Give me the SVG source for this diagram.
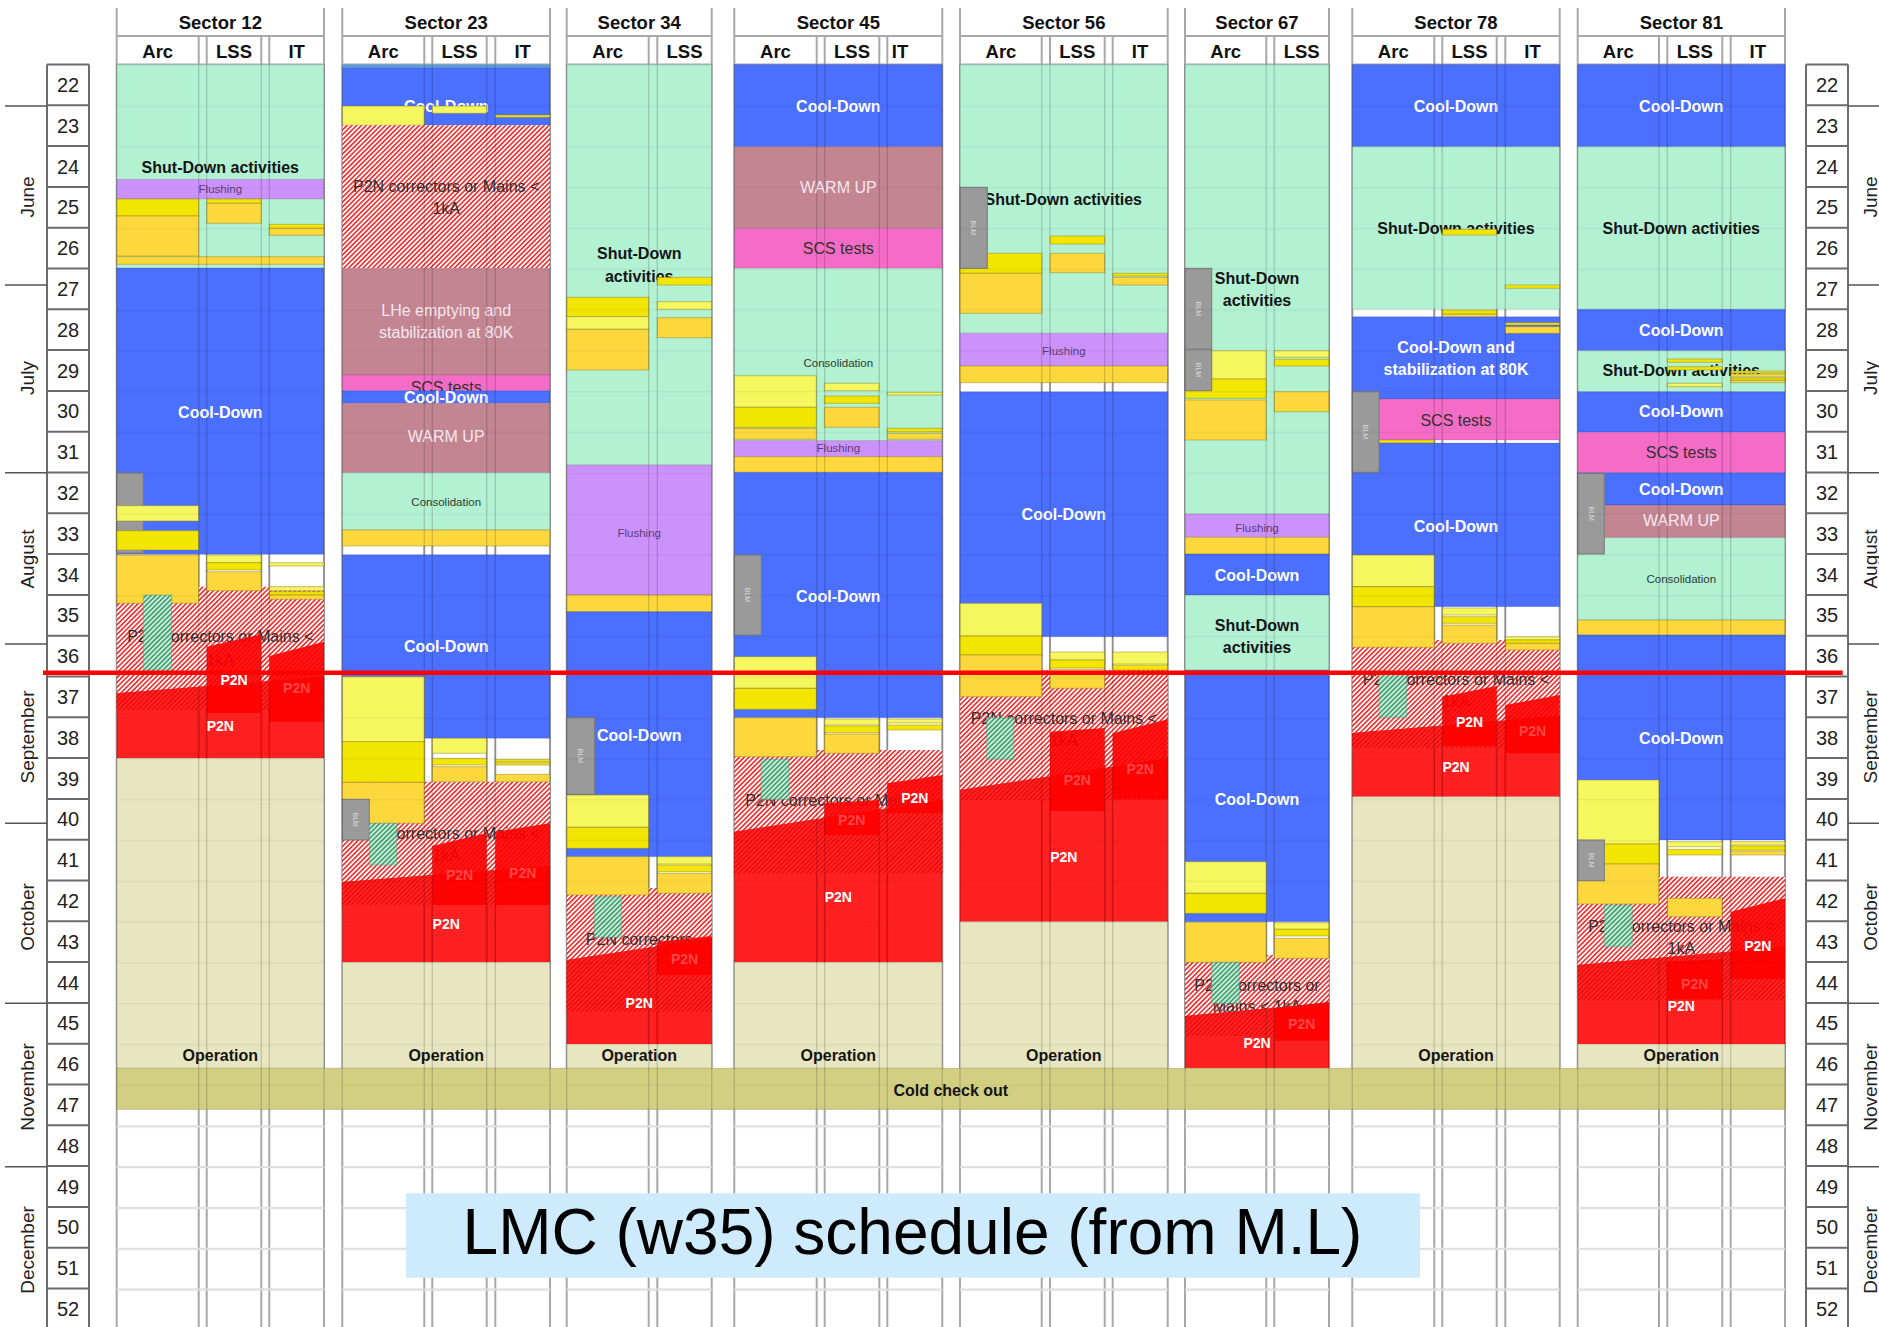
<svg xmlns="http://www.w3.org/2000/svg" width="1879" height="1327" viewBox="0 0 1879 1327">
<defs>
<pattern id="hr" width="3.4" height="6" patternUnits="userSpaceOnUse" patternTransform="rotate(45)"><rect width="3.4" height="6" fill="#fff"/><rect width="1.7" height="6" fill="#f23535"/></pattern>
<pattern id="hg" width="3.4" height="6" patternUnits="userSpaceOnUse" patternTransform="rotate(45)"><rect width="3.4" height="6" fill="#cdeedd"/><rect width="1.7" height="6" fill="#47a274"/></pattern>
<pattern id="hd" width="3.4" height="6" patternUnits="userSpaceOnUse" patternTransform="rotate(45)"><rect width="3.4" height="6" fill="#ff2626"/><rect width="1.7" height="6" fill="#f00c0c"/></pattern>
<pattern id="wk" x="0" y="64.5" width="20" height="40.8" patternUnits="userSpaceOnUse"><rect width="20" height="1.5" fill="#000" fill-opacity=".045"/></pattern>
<pattern id="wkw" x="0" y="64.5" width="20" height="40.8" patternUnits="userSpaceOnUse"><rect width="20" height="2.2" fill="#dedede"/></pattern>
</defs>
<style>
text{font-family:"Liberation Sans",Arial,sans-serif}
.g{fill:#b3f1d3;stroke:#000;stroke-opacity:.1}
.b{fill:#4b6ffe;stroke:#000;stroke-opacity:.1}
.m{fill:#c48593;stroke:#000;stroke-opacity:.1}
.p{fill:#f56cc6;stroke:#000;stroke-opacity:.1}
.f{fill:#cc92fb;stroke:#000;stroke-opacity:.12}
.y{fill:#f2e500;stroke:#8a7a20;stroke-opacity:.45}
.ly{fill:#f6f65e;stroke:#8a7a20;stroke-opacity:.45}
.o{fill:#fdd83d;stroke:#8a7a20;stroke-opacity:.45}
.blm{fill:#9a9a9a;stroke:#7a7a7a}
.op{fill:#e7e6c1;stroke:#000;stroke-opacity:.1}
.hr{fill:url(#hr)}
.hg{fill:url(#hg);stroke:#6a9a80;stroke-opacity:.5}
.hd{fill:url(#hd)}
.rd{fill:#ff0000;fill-opacity:.87}
.rb{fill:#ff0000;fill-opacity:.9}
.tb{font-size:16px;font-weight:bold;text-anchor:middle}
.wh{fill:#fff}
.dk{fill:#141414}
.n{font-size:16px;text-anchor:middle;fill:#303030}
.nw{font-size:16px;text-anchor:middle;fill:#f6e8ee}
.sm{font-size:11.5px;text-anchor:middle}
.fl{fill:#5b3d78}
.cs{fill:#2e3a30}
.p2n{font-size:14px;font-weight:bold;text-anchor:middle;fill:#fff}
.fp{font-size:14px;font-weight:bold;text-anchor:middle;fill:#ff4646}
.blmt{font-size:7px;fill:#dadada;text-anchor:middle}
.hdr{font-size:18.5px;font-weight:bold;text-anchor:middle;fill:#111}
.wn{font-size:20px;text-anchor:middle;fill:#222}
.mo{font-size:19px;text-anchor:middle;fill:#222}
</style>
<rect width="1879" height="1327" fill="#fff"/>

<g id="grid">
<path fill="none" stroke="#a8a8a8" stroke-width="2" d="M116.7 8V1327M324 8V1327M342.3 8V1327M550 8V1327M566.7 8V1327M711.7 8V1327M734.3 8V1327M942.3 8V1327M960 8V1327M1167.7 8V1327M1185 8V1327M1329 8V1327M1352.3 8V1327M1559.7 8V1327M1577.7 8V1327M1785 8V1327
M198.7 36V1327M206.7 36V1327M261.3 36V1327M269.3 36V1327M424.3 36V1327M432.3 36V1327M486.7 36V1327M495.3 36V1327M648.7 36V1327M657.3 36V1327M816.7 36V1327M824.7 36V1327M879.3 36V1327M887.3 36V1327M1041.7 36V1327M1050 36V1327M1104.7 36V1327M1112.7 36V1327M1266.3 36V1327M1274.3 36V1327M1434.3 36V1327M1442.3 36V1327M1496.7 36V1327M1505.3 36V1327M1659 36V1327M1667.3 36V1327M1722.3 36V1327M1730.7 36V1327
M116.7 36H324M342.3 36H550M566.7 36H711.7M734.3 36H942.3M960 36H1167.7M1185 36H1329M1352.3 36H1559.7M1577.7 36H1785
M116.7 64.5H324M342.3 64.5H550M566.7 64.5H711.7M734.3 64.5H942.3M960 64.5H1167.7M1185 64.5H1329M1352.3 64.5H1559.7M1577.7 64.5H1785"/>
<g fill="url(#wkw)">
<rect x="116.7" y="1109.3" width="207.3" height="218"/>
<rect x="342.3" y="1109.3" width="207.7" height="218"/>
<rect x="566.7" y="1109.3" width="145" height="218"/>
<rect x="734.3" y="1109.3" width="208" height="218"/>
<rect x="960" y="1109.3" width="207.7" height="218"/>
<rect x="1185" y="1109.3" width="144" height="218"/>
<rect x="1352.3" y="1109.3" width="207.4" height="218"/>
<rect x="1577.7" y="1109.3" width="207.3" height="218"/>
</g>
</g>

<g id="headers">
<text class="hdr" x="220.3" y="28.5">Sector 12</text>
<text class="hdr" x="157.7" y="57.5">Arc</text><text class="hdr" x="234" y="57.5">LSS</text><text class="hdr" x="296.7" y="57.5">IT</text>
<text class="hdr" x="446.2" y="28.5">Sector 23</text>
<text class="hdr" x="383.3" y="57.5">Arc</text><text class="hdr" x="459.5" y="57.5">LSS</text><text class="hdr" x="522.7" y="57.5">IT</text>
<text class="hdr" x="639.2" y="28.5">Sector 34</text>
<text class="hdr" x="607.7" y="57.5">Arc</text><text class="hdr" x="684.5" y="57.5">LSS</text>
<text class="hdr" x="838.3" y="28.5">Sector 45</text>
<text class="hdr" x="775.5" y="57.5">Arc</text><text class="hdr" x="852" y="57.5">LSS</text><text class="hdr" x="900" y="57.5">IT</text>
<text class="hdr" x="1063.8" y="28.5">Sector 56</text>
<text class="hdr" x="1001" y="57.5">Arc</text><text class="hdr" x="1077.3" y="57.5">LSS</text><text class="hdr" x="1140" y="57.5">IT</text>
<text class="hdr" x="1257" y="28.5">Sector 67</text>
<text class="hdr" x="1225.7" y="57.5">Arc</text><text class="hdr" x="1301.7" y="57.5">LSS</text>
<text class="hdr" x="1456" y="28.5">Sector 78</text>
<text class="hdr" x="1393.3" y="57.5">Arc</text><text class="hdr" x="1469.5" y="57.5">LSS</text><text class="hdr" x="1532.5" y="57.5">IT</text>
<text class="hdr" x="1681.3" y="28.5">Sector 81</text>
<text class="hdr" x="1618.3" y="57.5">Arc</text><text class="hdr" x="1694.8" y="57.5">LSS</text><text class="hdr" x="1757.8" y="57.5">IT</text>
</g>

<g id="sector-12">
<rect class="hr" x="116.7" y="586.7" width="207.3" height="123.3"/>
<rect class="g" x="116.7" y="64.5" width="207.3" height="203.5"/>
<text class="tb dk" x="220.3" y="172.7">Shut-Down activities</text>
<rect class="f" x="116.7" y="179.3" width="207.3" height="19.7"/>
<text class="sm fl" x="220.3" y="193.4">Flushing</text>
<rect class="y" x="116.7" y="199" width="82" height="17"/>
<rect class="o" x="116.7" y="216" width="82" height="40"/>
<rect class="y" x="206.7" y="199" width="54.6" height="4.3"/>
<rect class="o" x="206.7" y="203.3" width="54.6" height="20"/>
<rect class="y" x="269.3" y="224.3" width="54.7" height="4"/>
<rect class="o" x="269.3" y="228.3" width="54.7" height="7"/>
<rect class="o" x="116.7" y="256.7" width="207.3" height="7.6"/>
<rect class="b" x="116.7" y="268" width="207.3" height="286.3"/>
<text class="tb wh" x="220.3" y="418">Cool-Down</text>
<rect class="blm" x="116.7" y="473" width="26.6" height="80"/>
<text class="blmt" transform="rotate(90 130 513)" x="130" y="515.5">BLM</text>
<rect class="ly" x="116.7" y="505.7" width="82" height="15.3"/>
<rect class="y" x="116.7" y="530.7" width="82" height="19.3"/>
<rect class="o" x="116.7" y="555" width="82" height="48.3"/>
<rect class="ly" x="206.7" y="555" width="54.6" height="7.7"/>
<rect class="y" x="206.7" y="562.7" width="54.6" height="7.3"/>
<rect class="o" x="206.7" y="571.7" width="54.6" height="19"/>
<rect class="ly" x="269.3" y="562.7" width="54.7" height="3.3"/>
<rect class="ly" x="269.3" y="586.7" width="54.7" height="4"/>
<rect class="y" x="269.3" y="591.7" width="54.7" height="3.3"/>
<rect class="o" x="269.3" y="595" width="54.7" height="4.3"/>
<text class="n" x="220.3" y="642.4">P2N correctors or Mains &lt;</text>
<text class="n" x="220.3" y="665.7">1kA</text>
<rect class="hg" x="143.3" y="595" width="28.4" height="75"/>
<polygon class="rd" points="116.7,693.3 324,676.7 324,758.3 116.7,758.3"/>
<polygon class="hd" points="116.7,693.3 324,676.7 324,710 116.7,710"/>
<polygon class="rb" points="206.7,646.7 261.3,634.3 261.3,713 206.7,713"/>
<polygon class="rb" points="269.3,656 324,641.7 324,721.7 269.3,721.7"/>
<text class="p2n" x="234" y="685">P2N</text>
<text class="fp" x="296.7" y="693.3">P2N</text>
<text class="p2n" x="220.3" y="731">P2N</text>
<rect class="op" x="116.7" y="758.3" width="207.3" height="310"/>
<text class="tb dk" x="220.3" y="1061">Operation</text>
</g>

<g id="sector-23">
<rect class="hr" x="342.3" y="781.7" width="207.7" height="123.3"/>
<rect x="342.3" y="64.5" width="207.7" height="3.5" fill="#5d9fdc"/>
<rect class="b" x="342.3" y="68" width="207.7" height="57.3"/>
<text class="tb wh" x="446.2" y="112">Cool-Down</text>
<rect class="ly" x="342.3" y="106" width="82" height="19.3"/>
<rect class="ly" x="432.3" y="106" width="54.4" height="7.3"/>
<rect class="y" x="495.3" y="115" width="54.7" height="2.3"/>
<rect class="hr" x="342.3" y="125.3" width="207.7" height="143"/>
<text class="n" x="446.2" y="191.7">P2N correctors or Mains &lt;</text>
<text class="n" x="446.2" y="213.7">1kA</text>
<rect class="m" x="342.3" y="268.3" width="207.7" height="106.7"/>
<text class="nw" x="446.2" y="316.4">LHe emptying and</text>
<text class="nw" x="446.2" y="338.4">stabilization at 80K</text>
<rect class="p" x="342.3" y="375" width="207.7" height="15.7"/>
<text class="n wh" x="446.2" y="393">SCS tests</text>
<rect class="b" x="342.3" y="390.7" width="207.7" height="12.6"/>
<rect class="m" x="342.3" y="403.3" width="207.7" height="69.4"/>
<text class="tb wh" x="446.2" y="403.3">Cool-Down</text>
<text class="nw" x="446.2" y="442.4">WARM UP</text>
<rect class="g" x="342.3" y="472.7" width="207.7" height="57.3"/>
<text class="sm cs" x="446.2" y="505.8">Consolidation</text>
<rect class="o" x="342.3" y="530" width="207.7" height="16"/>
<rect class="b" x="342.3" y="554.7" width="207.7" height="183.6"/>
<text class="tb wh" x="446.2" y="652.4">Cool-Down</text>
<rect class="ly" x="342.3" y="676.7" width="82" height="65"/>
<rect class="y" x="342.3" y="741.7" width="82" height="40.6"/>
<rect class="o" x="342.3" y="782.3" width="82" height="41"/>
<rect class="ly" x="432.3" y="738.3" width="54.4" height="15"/>
<rect class="y" x="432.3" y="758.3" width="54.4" height="6.7"/>
<rect class="o" x="432.3" y="766.7" width="54.4" height="15"/>
<rect class="y" x="495.3" y="759.3" width="54.7" height="2.4"/>
<rect class="y" x="495.3" y="762.7" width="54.7" height="2.3"/>
<rect class="o" x="495.3" y="774.3" width="54.7" height="7.4"/>
<text class="n" x="446.2" y="839">P2N correctors or Mains &lt;</text>
<text class="n" x="446.2" y="861">1kA</text>
<rect class="blm" x="342.3" y="799.3" width="27" height="40.7"/>
<text class="blmt" transform="rotate(90 355.8 819.7)" x="355.8" y="822.2">BLM</text>
<rect class="hg" x="369.3" y="823.3" width="27.4" height="41.7"/>
<polygon class="rd" points="342.3,882 550,866 550,962.3 342.3,962.3"/>
<polygon class="hd" points="342.3,882 550,866 550,905 342.3,905"/>
<polygon class="rb" points="432.3,846 486.7,833 486.7,905 432.3,905"/>
<polygon class="rb" points="495.3,831.7 550,823.3 550,905 495.3,905"/>
<text class="fp" x="459.5" y="880">P2N</text>
<text class="fp" x="522.7" y="878">P2N</text>
<text class="p2n" x="446.2" y="929.3">P2N</text>
<rect class="op" x="342.3" y="962.3" width="207.7" height="106"/>
<text class="tb dk" x="446.2" y="1061">Operation</text>
</g>

<g id="sector-34">
<rect class="hr" x="566.7" y="888" width="145" height="123.7"/>
<rect class="g" x="566.7" y="64.5" width="145" height="400.5"/>
<text class="tb dk" x="639.2" y="259">Shut-Down</text>
<text class="tb dk" x="639.2" y="281.7">activities</text>
<rect class="y" x="566.7" y="297.3" width="82" height="19.4"/>
<rect class="ly" x="566.7" y="316.7" width="82" height="12.6"/>
<rect class="o" x="566.7" y="329.3" width="82" height="40.7"/>
<rect class="y" x="657.3" y="277.3" width="54.4" height="7.7"/>
<rect class="ly" x="657.3" y="301.7" width="54.4" height="7.6"/>
<rect class="o" x="657.3" y="317.7" width="54.4" height="20"/>
<rect class="f" x="566.7" y="465" width="145" height="130"/>
<text class="sm fl" x="639.2" y="536.8">Flushing</text>
<rect class="o" x="566.7" y="595" width="145" height="16.7"/>
<rect class="b" x="566.7" y="611.7" width="145" height="245"/>
<text class="tb wh" x="639.2" y="740.7">Cool-Down</text>
<rect class="blm" x="566.7" y="717.7" width="28" height="76.6"/>
<text class="blmt" transform="rotate(90 580.7 756)" x="580.7" y="758.5">BLM</text>
<rect class="ly" x="566.7" y="795" width="82" height="32.3"/>
<rect class="y" x="566.7" y="827.3" width="82" height="21"/>
<rect class="o" x="566.7" y="856.7" width="82" height="38.3"/>
<rect class="ly" x="657.3" y="856.7" width="54.4" height="7.3"/>
<rect class="y" x="657.3" y="865" width="54.4" height="6.7"/>
<rect class="o" x="657.3" y="873.3" width="54.4" height="20"/>
<text class="n" x="639.2" y="945">P2N correctors</text>
<text class="n" x="639.2" y="967.4">Mains &lt;</text>
<rect class="hg" x="594.3" y="896.7" width="27.4" height="40.6"/>
<polygon class="rd" points="566.7,960 711.7,938.3 711.7,1044 566.7,1044"/>
<polygon class="hd" points="566.7,960 711.7,938.3 711.7,1011.7 566.7,1011.7"/>
<polygon class="rb" points="657.3,941.7 711.7,936 711.7,975 657.3,975"/>
<text class="fp" x="684.5" y="963.5">P2N</text>
<text class="p2n" x="639.2" y="1007.7">P2N</text>
<rect class="op" x="566.7" y="1044" width="145" height="24.3"/>
<text class="tb dk" x="639.2" y="1061">Operation</text>
</g>

<g id="sector-45">
<rect class="hr" x="734.3" y="750" width="208" height="123.3"/>
<rect class="b" x="734.3" y="64.5" width="208" height="82.2"/>
<text class="tb wh" x="838.3" y="111.7">Cool-Down</text>
<rect class="m" x="734.3" y="146.7" width="208" height="81.6"/>
<text class="nw" x="838.3" y="193">WARM UP</text>
<rect class="p" x="734.3" y="228.3" width="208" height="40"/>
<text class="n wh" x="838.3" y="254">SCS tests</text>
<rect class="g" x="734.3" y="268.3" width="208" height="172.4"/>
<text class="sm cs" x="838.3" y="367.4">Consolidation</text>
<rect class="ly" x="734.3" y="375.7" width="82" height="31.6"/>
<rect class="y" x="734.3" y="407.3" width="82" height="20"/>
<rect class="o" x="734.3" y="428.3" width="82" height="11"/>
<rect class="ly" x="824.3" y="383.3" width="54.7" height="7.4"/>
<rect class="y" x="824.3" y="396" width="54.7" height="7.3"/>
<rect class="o" x="824.3" y="407.3" width="54.7" height="20"/>
<rect class="ly" x="887.3" y="392.3" width="55" height="2.7"/>
<rect class="y" x="887.3" y="428.3" width="55" height="3.4"/>
<rect class="o" x="887.3" y="433.3" width="55" height="6"/>
<rect class="f" x="734.3" y="440.7" width="208" height="16"/>
<text class="sm fl" x="838.3" y="452.4">Flushing</text>
<rect class="o" x="734.3" y="456.7" width="208" height="15.6"/>
<rect class="b" x="734.3" y="472.3" width="208" height="245.4"/>
<text class="tb wh" x="838.3" y="601.7">Cool-Down</text>
<rect class="blm" x="734.3" y="555" width="27" height="80"/>
<text class="blmt" transform="rotate(90 747.8 595)" x="747.8" y="597.5">BLM</text>
<rect class="ly" x="734.3" y="656.7" width="82" height="31.6"/>
<rect class="y" x="734.3" y="688.3" width="82" height="21"/>
<rect class="o" x="734.3" y="717.7" width="82" height="39"/>
<rect class="ly" x="824.3" y="719" width="54.7" height="6"/>
<rect class="y" x="824.3" y="726" width="54.7" height="6.7"/>
<rect class="o" x="824.3" y="734" width="54.7" height="19.3"/>
<rect class="ly" x="887.3" y="719" width="55" height="4"/>
<rect class="y" x="887.3" y="725" width="55" height="5"/>
<text class="n" x="838.3" y="805.7">P2N correctors or Mains &lt;</text>
<text class="n" x="838.3" y="827.7">1kA</text>
<rect class="hg" x="761" y="759.3" width="28" height="40"/>
<polygon class="rd" points="734.3,831.7 942.3,800 942.3,962.3 734.3,962.3"/>
<polygon class="hd" points="734.3,831.7 942.3,800 942.3,873.3 734.3,873.3"/>
<polygon class="rb" points="824.3,803.3 879,800 879,835 824.3,835"/>
<text class="fp" x="851.7" y="825">P2N</text>
<polygon class="rb" points="887.3,783.3 942.3,775 942.3,813.3 887.3,813.3"/>
<text class="p2n" x="914.8" y="803.3">P2N</text>
<text class="p2n" x="838.3" y="902.3">P2N</text>
<rect class="op" x="734.3" y="962.3" width="208" height="106"/>
<text class="tb dk" x="838.3" y="1061">Operation</text>
</g>

<g id="sector-56">
<rect class="hr" x="960" y="670" width="207.7" height="130"/>
<rect class="g" x="960" y="64.5" width="207.7" height="268.8"/>
<text class="tb dk" x="1063.3" y="205">Shut-Down activities</text>
<rect class="y" x="960" y="253.3" width="82" height="20"/>
<rect class="o" x="960" y="273.3" width="82" height="40"/>
<rect class="blm" x="960" y="187.3" width="27.3" height="81"/>
<text class="blmt" transform="rotate(90 973.7 227.8)" x="973.7" y="230.3">BLM</text>
<rect class="y" x="1050" y="236" width="54.7" height="8"/>
<rect class="o" x="1050" y="253.3" width="54.7" height="19.4"/>
<rect class="y" x="1112.7" y="273.3" width="55" height="2.7"/>
<rect class="o" x="1112.7" y="277.3" width="55" height="7.7"/>
<rect class="f" x="960" y="333.3" width="207.7" height="32.7"/>
<text class="sm fl" x="1063.8" y="354.8">Flushing</text>
<rect class="o" x="960" y="366" width="207.7" height="16.7"/>
<rect class="b" x="960" y="391.7" width="207.7" height="245"/>
<text class="tb wh" x="1063.8" y="519.7">Cool-Down</text>
<rect class="ly" x="960" y="603.3" width="82" height="32.7"/>
<rect class="y" x="960" y="636" width="82" height="19"/>
<rect class="o" x="960" y="655" width="82" height="41.7"/>
<rect class="ly" x="1050" y="652" width="54.7" height="8"/>
<rect class="y" x="1050" y="660" width="54.7" height="8"/>
<rect class="o" x="1050" y="669.3" width="54.7" height="19"/>
<rect class="ly" x="1112.7" y="652" width="55" height="12"/>
<rect class="y" x="1112.7" y="665" width="55" height="5"/>
<text class="n" x="1063.8" y="724">P2N correctors or Mains &lt;</text>
<text class="n" x="1063.8" y="745.7">1kA</text>
<rect class="hg" x="986.7" y="717.7" width="27.3" height="41.6"/>
<polygon class="rd" points="960,790 1167.7,758.3 1167.7,921.7 960,921.7"/>
<polygon class="hd" points="960,790 1167.7,758.3 1167.7,800 960,800"/>
<polygon class="rb" points="1050,731.7 1104.7,728 1104.7,811 1050,811"/>
<polygon class="rb" points="1112.7,733.3 1167.7,719.3 1167.7,799.3 1112.7,799.3"/>
<text class="fp" x="1077.3" y="785">P2N</text>
<text class="fp" x="1140.2" y="773.5">P2N</text>
<text class="p2n" x="1063.8" y="862.3">P2N</text>
<rect class="op" x="960" y="921.7" width="207.7" height="146.6"/>
<text class="tb dk" x="1063.8" y="1061">Operation</text>
</g>

<g id="sector-67">
<rect class="hr" x="1185" y="955" width="144" height="81"/>
<rect class="g" x="1185" y="64.5" width="144" height="449.5"/>
<text class="tb dk" x="1257" y="284">Shut-Down</text>
<text class="tb dk" x="1257" y="306">activities</text>
<rect class="ly" x="1185" y="350.7" width="81.3" height="28.3"/>
<rect class="y" x="1185" y="379" width="81.3" height="19.3"/>
<rect class="o" x="1185" y="400" width="81.3" height="40"/>
<rect class="blm" x="1185" y="268.3" width="26.7" height="81"/>
<text class="blmt" transform="rotate(90 1198.3 308.8)" x="1198.3" y="311.3">BLM</text>
<rect class="blm" x="1185" y="349.3" width="26.7" height="41.4"/>
<text class="blmt" transform="rotate(90 1198.3 370)" x="1198.3" y="372.5">BLM</text>
<rect class="ly" x="1274.3" y="350.7" width="54.7" height="6.6"/>
<rect class="y" x="1274.3" y="359.3" width="54.7" height="6.7"/>
<rect class="o" x="1274.3" y="391.7" width="54.7" height="20"/>
<rect class="f" x="1185" y="514" width="144" height="23.3"/>
<text class="sm fl" x="1257" y="532.4">Flushing</text>
<rect class="o" x="1185" y="537.3" width="144" height="16.7"/>
<rect class="b" x="1185" y="554" width="144" height="41"/>
<text class="tb wh" x="1257" y="580.7">Cool-Down</text>
<rect class="g" x="1185" y="595" width="144" height="75"/>
<text class="tb dk" x="1257" y="630.7">Shut-Down</text>
<text class="tb dk" x="1257" y="653">activities</text>
<rect class="b" x="1185" y="670" width="144" height="251.7"/>
<text class="tb wh" x="1257" y="805">Cool-Down</text>
<rect class="ly" x="1185" y="861.7" width="81.3" height="31.6"/>
<rect class="y" x="1185" y="893.3" width="81.3" height="20"/>
<rect class="o" x="1185" y="922.3" width="81.3" height="40"/>
<rect class="ly" x="1274.3" y="922.7" width="54.7" height="6.6"/>
<rect class="y" x="1274.3" y="929.3" width="54.7" height="6.7"/>
<rect class="o" x="1274.3" y="938.3" width="54.7" height="20"/>
<text class="n" x="1257" y="990.7">P2N correctors or</text>
<text class="n" x="1257" y="1012.4">Mains &lt; 1kA</text>
<rect class="hg" x="1211.7" y="962.3" width="27.6" height="41"/>
<polygon class="rd" points="1185,1016 1329,1002.7 1329,1068.3 1185,1068.3"/>
<polygon class="hd" points="1185,1016 1329,1002.7 1329,1036 1185,1036"/>
<polygon class="rb" points="1274.3,1008 1329,1002 1329,1040.7 1274.3,1040.7"/>
<text class="fp" x="1301.7" y="1029">P2N</text>
<text class="p2n" x="1257" y="1048.3">P2N</text>
</g>

<g id="sector-78">
<rect class="hr" x="1352.3" y="640" width="207.4" height="108"/>
<rect class="b" x="1352.3" y="64.5" width="207.4" height="82.2"/>
<text class="tb wh" x="1456" y="111.7">Cool-Down</text>
<rect class="g" x="1352.3" y="146.7" width="207.4" height="162.6"/>
<text class="tb dk" x="1456" y="234">Shut-Down activities</text>
<rect class="y" x="1442.3" y="229.3" width="54.4" height="5.7"/>
<rect class="y" x="1505.3" y="285" width="54.4" height="3.3"/>
<rect class="y" x="1442.3" y="310" width="54.4" height="4"/>
<rect class="o" x="1442.3" y="314.3" width="54.4" height="7.4"/>
<rect class="b" x="1352.3" y="316.7" width="207.4" height="82.3"/>
<rect class="y" x="1505.3" y="322.7" width="54.4" height="2.3"/>
<rect class="o" x="1505.3" y="326.7" width="54.4" height="6.6"/>
<text class="tb wh" x="1456" y="353">Cool-Down and</text>
<text class="tb wh" x="1456" y="375">stabilization at 80K</text>
<rect class="p" x="1352.3" y="399" width="207.4" height="41"/>
<text class="n wh" x="1456" y="425.7">SCS tests</text>
<rect class="y" x="1352.3" y="440" width="82" height="3"/>
<rect class="b" x="1352.3" y="443" width="207.4" height="163.7"/>
<text class="tb wh" x="1456" y="532.4">Cool-Down</text>
<rect class="blm" x="1352.3" y="391.7" width="26.7" height="80.6"/>
<text class="blmt" transform="rotate(90 1365.7 432)" x="1365.7" y="434.5">BLM</text>
<rect class="ly" x="1352.3" y="555" width="82" height="31.7"/>
<rect class="y" x="1352.3" y="586.7" width="82" height="20"/>
<rect class="o" x="1352.3" y="606.7" width="82" height="40.6"/>
<rect class="ly" x="1442.3" y="608" width="54.4" height="7"/>
<rect class="y" x="1442.3" y="616.7" width="54.4" height="6.6"/>
<rect class="o" x="1442.3" y="625" width="54.4" height="18.3"/>
<rect class="ly" x="1505.3" y="636.7" width="54.4" height="3.3"/>
<rect class="y" x="1505.3" y="640" width="54.4" height="3.3"/>
<rect class="o" x="1505.3" y="643.3" width="54.4" height="6.7"/>
<text class="n" x="1456" y="685">P2N correctors or Mains &lt;</text>
<text class="n" x="1456" y="707.4">1kA</text>
<rect class="hg" x="1379" y="673.3" width="27.7" height="44"/>
<polygon class="rd" points="1352.3,733 1559.7,716 1559.7,796.7 1352.3,796.7"/>
<polygon class="hd" points="1352.3,733 1559.7,716 1559.7,748 1352.3,748"/>
<polygon class="rb" points="1442.3,696.7 1496.7,686 1496.7,746 1442.3,746"/>
<polygon class="rb" points="1505.3,705 1559.7,695 1559.7,753.3 1505.3,753.3"/>
<text class="p2n" x="1469.5" y="726.7">P2N</text>
<text class="fp" x="1532.5" y="735.7">P2N</text>
<text class="p2n" x="1456" y="772.3">P2N</text>
<rect class="op" x="1352.3" y="796.7" width="207.4" height="271.6"/>
<text class="tb dk" x="1456" y="1061">Operation</text>
</g>

<g id="sector-81">
<rect class="hr" x="1577.7" y="876.7" width="207.3" height="123.3"/>
<rect class="b" x="1577.7" y="64.5" width="207.3" height="82.2"/>
<text class="tb wh" x="1681.3" y="111.7">Cool-Down</text>
<rect class="g" x="1577.7" y="146.7" width="207.3" height="162.6"/>
<text class="tb dk" x="1681.3" y="234">Shut-Down activities</text>
<rect class="b" x="1577.7" y="309.3" width="207.3" height="41.4"/>
<text class="tb wh" x="1681.3" y="335.7">Cool-Down</text>
<rect class="g" x="1577.7" y="350.7" width="207.3" height="41"/>
<text class="tb dk" x="1681.3" y="375.7">Shut-Down activities</text>
<rect class="y" x="1667.3" y="359" width="55" height="3.3"/>
<rect class="y" x="1667.3" y="366.7" width="55" height="3.3"/>
<rect class="ly" x="1667.3" y="383.3" width="55" height="3.4"/>
<rect class="y" x="1730.7" y="371" width="54.3" height="2"/>
<rect class="o" x="1730.7" y="374" width="54.3" height="3"/>
<rect class="y" x="1730.7" y="378" width="54.3" height="2"/>
<rect class="o" x="1730.7" y="380.5" width="54.3" height="2.2"/>
<rect class="b" x="1577.7" y="391.7" width="207.3" height="40.6"/>
<text class="tb wh" x="1681.3" y="417.4">Cool-Down</text>
<rect class="p" x="1577.7" y="432.3" width="207.3" height="40.4"/>
<text class="n wh" x="1681.3" y="458.4">SCS tests</text>
<rect class="b" x="1577.7" y="472.7" width="207.3" height="32.3"/>
<text class="tb wh" x="1681.3" y="495">Cool-Down</text>
<rect class="m" x="1577.7" y="505" width="207.3" height="32.7"/>
<text class="nw" x="1681.3" y="525.7">WARM UP</text>
<rect class="g" x="1577.7" y="537.7" width="207.3" height="82.3"/>
<text class="sm cs" x="1681.3" y="583.4">Consolidation</text>
<rect class="blm" x="1577.7" y="473.3" width="26.6" height="80.7"/>
<text class="blmt" transform="rotate(90 1591 513.7)" x="1591" y="516.2">BLM</text>
<rect class="o" x="1577.7" y="620" width="207.3" height="15"/>
<rect class="b" x="1577.7" y="635" width="207.3" height="205"/>
<text class="tb wh" x="1681.3" y="744">Cool-Down</text>
<rect class="ly" x="1577.7" y="780" width="81.3" height="64"/>
<rect class="y" x="1577.7" y="844" width="81.3" height="20"/>
<rect class="o" x="1577.7" y="864" width="81.3" height="40"/>
<rect class="blm" x="1577.7" y="840" width="26.6" height="40.7"/>
<text class="blmt" transform="rotate(90 1591 860.3)" x="1591" y="862.8">BLM</text>
<rect class="ly" x="1667.3" y="841.7" width="55" height="5"/>
<rect class="y" x="1667.3" y="849.3" width="55" height="5.7"/>
<rect class="ly" x="1730.7" y="841.7" width="54.3" height="3.3"/>
<rect class="y" x="1730.7" y="846" width="54.3" height="4"/>
<rect class="o" x="1730.7" y="851" width="54.3" height="4"/>
<rect class="o" x="1667.3" y="898.3" width="55" height="18.4"/>
<text class="n" x="1681.3" y="932.4">P2N correctors or Mains &lt;</text>
<text class="n" x="1681.3" y="954">1kA</text>
<rect class="hg" x="1604.3" y="905" width="28" height="41.7"/>
<polygon class="rd" points="1577.7,965 1785,946.7 1785,1044 1577.7,1044"/>
<polygon class="hd" points="1577.7,965 1785,946.7 1785,1000 1577.7,1000"/>
<polygon class="rb" points="1730.7,911.7 1785,898.3 1785,979 1730.7,979"/>
<polygon class="rb" points="1667.3,961.7 1722.3,959 1722.3,999.3 1667.3,999.3"/>
<text class="p2n" x="1757.8" y="950.7">P2N</text>
<text class="fp" x="1694.8" y="988.5">P2N</text>
<text class="p2n" x="1681.3" y="1011">P2N</text>
<rect class="op" x="1577.7" y="1044" width="207.3" height="24.3"/>
<text class="tb dk" x="1681.3" y="1061">Operation</text>
</g>

<g id="cold-check-out">
<rect x="116.7" y="1068.3" width="1668.3" height="41" fill="#d3cf82" stroke="#9a9a60" stroke-opacity=".5"/>
<text class="tb dk" x="950.8" y="1096">Cold check out</text>
</g>

<g id="grid-overlay">
<g fill="url(#wk)">
<rect x="116.7" y="64.5" width="207.3" height="1044.8"/>
<rect x="342.3" y="64.5" width="207.7" height="1044.8"/>
<rect x="566.7" y="64.5" width="145" height="1044.8"/>
<rect x="734.3" y="64.5" width="208" height="1044.8"/>
<rect x="960" y="64.5" width="207.7" height="1044.8"/>
<rect x="1185" y="64.5" width="144" height="1044.8"/>
<rect x="1352.3" y="64.5" width="207.4" height="1044.8"/>
<rect x="1577.7" y="64.5" width="207.3" height="1044.8"/>
</g>
<path fill="none" stroke="#000" stroke-opacity=".15" stroke-width="1.4" d="M116.7 64.5V1109.3M324 64.5V1109.3M342.3 64.5V1109.3M550 64.5V1109.3M566.7 64.5V1109.3M711.7 64.5V1109.3M734.3 64.5V1109.3M942.3 64.5V1109.3M960 64.5V1109.3M1167.7 64.5V1109.3M1185 64.5V1109.3M1329 64.5V1109.3M1352.3 64.5V1109.3M1559.7 64.5V1109.3M1577.7 64.5V1109.3M1785 64.5V1109.3
M198.7 64.5V1109.3M206.7 64.5V1109.3M261.3 64.5V1109.3M269.3 64.5V1109.3M424.3 64.5V1109.3M432.3 64.5V1109.3M486.7 64.5V1109.3M495.3 64.5V1109.3M648.7 64.5V1109.3M657.3 64.5V1109.3M816.7 64.5V1109.3M824.7 64.5V1109.3M879.3 64.5V1109.3M887.3 64.5V1109.3M1041.7 64.5V1109.3M1050 64.5V1109.3M1104.7 64.5V1109.3M1112.7 64.5V1109.3M1266.3 64.5V1109.3M1274.3 64.5V1109.3M1434.3 64.5V1109.3M1442.3 64.5V1109.3M1496.7 64.5V1109.3M1505.3 64.5V1109.3M1659 64.5V1109.3M1667.3 64.5V1109.3M1722.3 64.5V1109.3M1730.7 64.5V1109.3"/>
</g>

<g id="week-axis-left">
<path fill="none" stroke="#6b6b6b" stroke-width="2" d="M47 64.5V1327M89 64.5V1327M47 64.5H89M47 105.3H89M47 146.1H89M47 186.9H89M47 227.7H89M47 268.5H89M47 309.3H89M47 350.1H89M47 390.9H89M47 431.7H89M47 472.5H89M47 513.3H89M47 554.1H89M47 594.9H89M47 635.7H89M47 676.5H89M47 717.3H89M47 758.1H89M47 798.9H89M47 839.7H89M47 880.5H89M47 921.3H89M47 962.1H89M47 1002.9H89M47 1043.7H89M47 1084.5H89M47 1125.3H89M47 1166.1H89M47 1206.9H89M47 1247.7H89M47 1288.5H89"/>
<path fill="none" stroke="#555" stroke-width="1.5" d="M5 106H47M5 285H47M5 472.7H47M5 644H47M5 823.3H47M5 1003.3H47M5 1166.7H47"/>
<g class="wn">
<text x="68" y="91.9">22</text><text x="68" y="132.7">23</text><text x="68" y="173.5">24</text><text x="68" y="214.3">25</text><text x="68" y="255.1">26</text><text x="68" y="295.9">27</text><text x="68" y="336.7">28</text><text x="68" y="377.5">29</text><text x="68" y="418.3">30</text><text x="68" y="459.1">31</text><text x="68" y="499.9">32</text><text x="68" y="540.7">33</text><text x="68" y="581.5">34</text><text x="68" y="622.3">35</text><text x="68" y="663.1">36</text><text x="68" y="703.9">37</text><text x="68" y="744.7">38</text><text x="68" y="785.5">39</text><text x="68" y="826.3">40</text><text x="68" y="867.1">41</text><text x="68" y="907.9">42</text><text x="68" y="948.7">43</text><text x="68" y="989.5">44</text><text x="68" y="1030.3">45</text><text x="68" y="1071.1">46</text><text x="68" y="1111.9">47</text><text x="68" y="1152.7">48</text><text x="68" y="1193.5">49</text><text x="68" y="1234.3">50</text><text x="68" y="1275.1">51</text><text x="68" y="1315.9">52</text>
</g>
<g class="mo">
<text transform="translate(34 197) rotate(-90)">June</text>
<text transform="translate(34 378) rotate(-90)">July</text>
<text transform="translate(34 559) rotate(-90)">August</text>
<text transform="translate(34 737) rotate(-90)">September</text>
<text transform="translate(34 917) rotate(-90)">October</text>
<text transform="translate(34 1087) rotate(-90)">November</text>
<text transform="translate(34 1250) rotate(-90)">December</text>
</g>
</g>

<g id="week-axis-right">
<path fill="none" stroke="#6b6b6b" stroke-width="2" d="M1806 64.5V1327M1848 64.5V1327M1806 64.5H1848M1806 105.3H1848M1806 146.1H1848M1806 186.9H1848M1806 227.7H1848M1806 268.5H1848M1806 309.3H1848M1806 350.1H1848M1806 390.9H1848M1806 431.7H1848M1806 472.5H1848M1806 513.3H1848M1806 554.1H1848M1806 594.9H1848M1806 635.7H1848M1806 676.5H1848M1806 717.3H1848M1806 758.1H1848M1806 798.9H1848M1806 839.7H1848M1806 880.5H1848M1806 921.3H1848M1806 962.1H1848M1806 1002.9H1848M1806 1043.7H1848M1806 1084.5H1848M1806 1125.3H1848M1806 1166.1H1848M1806 1206.9H1848M1806 1247.7H1848M1806 1288.5H1848"/>
<path fill="none" stroke="#555" stroke-width="1.5" d="M1848 106H1879M1848 285H1879M1848 472.7H1879M1848 644H1879M1848 823.3H1879M1848 1003.3H1879M1848 1166.7H1879"/>
<g class="wn">
<text x="1827" y="91.9">22</text><text x="1827" y="132.7">23</text><text x="1827" y="173.5">24</text><text x="1827" y="214.3">25</text><text x="1827" y="255.1">26</text><text x="1827" y="295.9">27</text><text x="1827" y="336.7">28</text><text x="1827" y="377.5">29</text><text x="1827" y="418.3">30</text><text x="1827" y="459.1">31</text><text x="1827" y="499.9">32</text><text x="1827" y="540.7">33</text><text x="1827" y="581.5">34</text><text x="1827" y="622.3">35</text><text x="1827" y="663.1">36</text><text x="1827" y="703.9">37</text><text x="1827" y="744.7">38</text><text x="1827" y="785.5">39</text><text x="1827" y="826.3">40</text><text x="1827" y="867.1">41</text><text x="1827" y="907.9">42</text><text x="1827" y="948.7">43</text><text x="1827" y="989.5">44</text><text x="1827" y="1030.3">45</text><text x="1827" y="1071.1">46</text><text x="1827" y="1111.9">47</text><text x="1827" y="1152.7">48</text><text x="1827" y="1193.5">49</text><text x="1827" y="1234.3">50</text><text x="1827" y="1275.1">51</text><text x="1827" y="1315.9">52</text>
</g>
<g class="mo">
<text transform="translate(1877 197) rotate(-90)">June</text>
<text transform="translate(1877 378) rotate(-90)">July</text>
<text transform="translate(1877 559) rotate(-90)">August</text>
<text transform="translate(1877 737) rotate(-90)">September</text>
<text transform="translate(1877 917) rotate(-90)">October</text>
<text transform="translate(1877 1087) rotate(-90)">November</text>
<text transform="translate(1877 1250) rotate(-90)">December</text>
</g>
</g>

<g id="current-week-line">
<line x1="43" y1="672.7" x2="1842.7" y2="672.7" stroke="#ff0000" stroke-width="4.5"/>
</g>

<g id="title">
<rect x="406" y="1193.3" width="1014" height="84.4" fill="#cdebfc"/>
<text x="912.5" y="1254" font-size="64" text-anchor="middle" fill="#000">LMC (w35) schedule (from M.L)</text>
</g>
</svg>
